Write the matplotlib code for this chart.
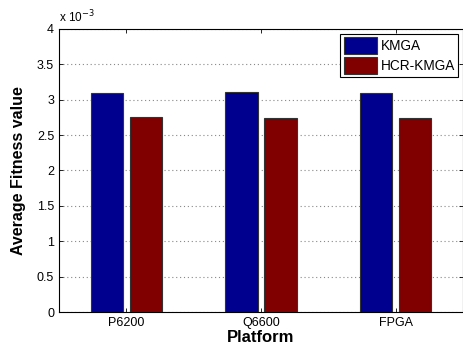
import matplotlib
matplotlib.use("Agg")
import matplotlib.pyplot as plt
import numpy as np

plt.rcParams['font.family'] = ['Liberation Sans', 'DejaVu Sans']

platforms = ["P6200", "Q6600", "FPGA"]
kmga = [3.10, 3.11, 3.10]
hcr_kmga = [2.75, 2.74, 2.74]
yticks = [0, 0.5, 1, 1.5, 2, 2.5, 3, 3.5, 4]

fig = plt.figure(figsize=(4.64, 3.49), dpi=100)
ax = fig.add_axes([0.127, 0.106, 0.871, 0.811])

x = np.arange(1, len(platforms) + 1)
w = 0.24
ax.bar(x - 0.145, kmga, w, color='#00008F', edgecolor='#333333', linewidth=0.8, label='KMGA', zorder=3)
ax.bar(x + 0.145, hcr_kmga, w, color='#800000', edgecolor='#333333', linewidth=0.8, label='HCR-KMGA', zorder=3)

ax.set_xlim(0.5, 3.5)
ax.set_ylim(0, 4)
ax.set_xticks(x)
ax.set_xticklabels(platforms, fontsize=9)
ax.set_yticks(yticks)
ax.set_yticklabels([f"{v:g}" for v in yticks], fontsize=9)
ax.tick_params(direction='in', top=True, right=True, length=3, width=0.6)
ax.yaxis.grid(True, linestyle=(0, (1, 2.5)), color='#888888', linewidth=0.8, zorder=0)
ax.set_axisbelow(True)
for s in ax.spines.values():
    s.set_linewidth(0.8)

ax.set_xlabel("Platform", fontsize=12, fontweight='bold', labelpad=1)
ax.set_ylabel("Average Fitness value", fontsize=11.5, fontweight='bold', labelpad=8)

ax.text(0.0, 1.012, r"x 10$^{-3}$", transform=ax.transAxes, fontsize=8.5, ha='left', va='bottom')

leg = ax.legend(loc='upper right', fontsize=9.8, fancybox=False, framealpha=1, edgecolor='black',
                handlelength=2.45, handleheight=1.55, handletextpad=0.25, borderpad=0.25,
                labelspacing=0.2, borderaxespad=0.35)
leg.get_frame().set_linewidth(0.8)

fig.savefig("out.png", dpi=100)
